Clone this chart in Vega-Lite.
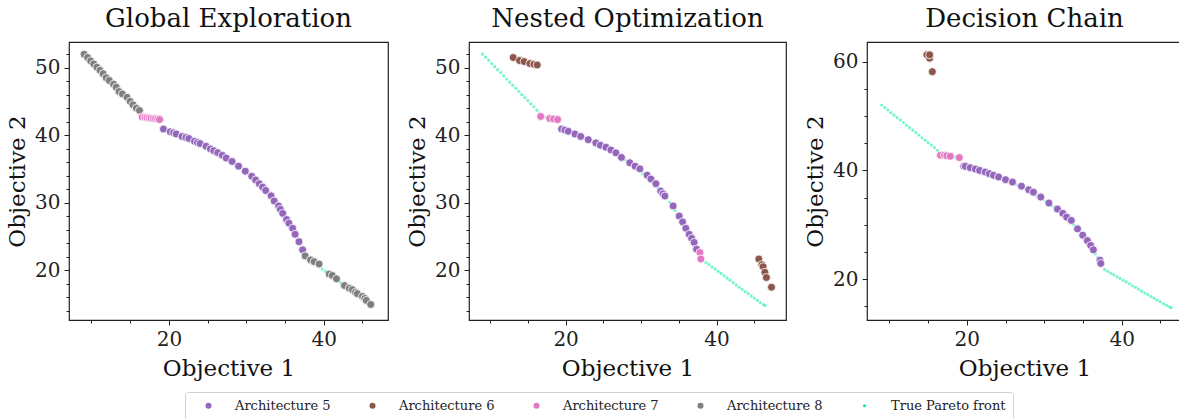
{
  "$schema": "https://vega.github.io/schema/vega-lite/v6.json",
  "background": "white",
  "padding": 5,
  "spacing": 16,
  "datasets": {
    "pareto": [
      {"obj1":9.0,"obj2":52.0},{"obj1":9.4,"obj2":51.55},{"obj1":9.8,"obj2":51.1},{"obj1":10.2,"obj2":50.6},{"obj1":10.6,"obj2":50.15},{"obj1":11.0,"obj2":49.7},{"obj1":11.4,"obj2":49.25},{"obj1":11.8,"obj2":48.8},{"obj1":12.2,"obj2":48.3},{"obj1":12.6,"obj2":47.85},{"obj1":13.0,"obj2":47.4},{"obj1":13.4,"obj2":46.95},{"obj1":13.8,"obj2":46.5},{"obj1":14.2,"obj2":46.0},{"obj1":14.6,"obj2":45.55},{"obj1":15.0,"obj2":45.1},{"obj1":15.4,"obj2":44.65},{"obj1":15.8,"obj2":44.2},{"obj1":16.2,"obj2":43.7},{"obj1":16.5,"obj2":43.2},{"obj1":16.8,"obj2":42.85},{"obj1":17.2,"obj2":42.7},{"obj1":17.6,"obj2":42.6},{"obj1":18.0,"obj2":42.5},{"obj1":18.4,"obj2":42.45},{"obj1":18.8,"obj2":42.35},{"obj1":19.2,"obj2":42.25},
      {"obj1":19.4,"obj2":40.9},{"obj1":19.8,"obj2":40.75},{"obj1":20.2,"obj2":40.55},{"obj1":20.6,"obj2":40.35},{"obj1":21.0,"obj2":40.15},{"obj1":21.4,"obj2":39.95},{"obj1":21.8,"obj2":39.75},{"obj1":22.2,"obj2":39.6},{"obj1":22.6,"obj2":39.45},{"obj1":23.0,"obj2":39.25},{"obj1":23.4,"obj2":39.05},{"obj1":23.8,"obj2":38.85},{"obj1":24.2,"obj2":38.65},{"obj1":24.6,"obj2":38.45},{"obj1":25.0,"obj2":38.25},{"obj1":25.4,"obj2":38.0},{"obj1":25.8,"obj2":37.75},{"obj1":26.2,"obj2":37.5},{"obj1":26.6,"obj2":37.25},{"obj1":27.0,"obj2":36.95},{"obj1":27.4,"obj2":36.65},{"obj1":27.8,"obj2":36.35},{"obj1":28.2,"obj2":36.05},{"obj1":28.6,"obj2":35.7},{"obj1":29.0,"obj2":35.35},{"obj1":29.4,"obj2":35.0},{"obj1":29.8,"obj2":34.65},{"obj1":30.2,"obj2":34.3},{"obj1":30.6,"obj2":33.9},{"obj1":31.0,"obj2":33.5},{"obj1":31.4,"obj2":33.1},{"obj1":31.8,"obj2":32.65},{"obj1":32.2,"obj2":32.2},{"obj1":32.6,"obj2":31.7},{"obj1":33.0,"obj2":31.2},{"obj1":33.4,"obj2":30.65},{"obj1":33.8,"obj2":30.05},{"obj1":34.2,"obj2":29.4},{"obj1":34.5,"obj2":28.85},{"obj1":34.8,"obj2":28.25},{"obj1":35.1,"obj2":27.65},{"obj1":35.4,"obj2":27.1},{"obj1":35.7,"obj2":26.5},{"obj1":36.0,"obj2":25.9},{"obj1":36.3,"obj2":25.3},{"obj1":36.6,"obj2":24.65},{"obj1":36.9,"obj2":24.0},{"obj1":37.2,"obj2":23.35},{"obj1":37.5,"obj2":22.6},
      {"obj1":37.8,"obj2":21.8},{"obj1":38.2,"obj2":21.45},{"obj1":38.6,"obj2":21.1},{"obj1":39.0,"obj2":20.8},{"obj1":39.4,"obj2":20.45},{"obj1":39.8,"obj2":20.15},{"obj1":40.2,"obj2":19.8},{"obj1":40.6,"obj2":19.5},{"obj1":41.0,"obj2":19.15},{"obj1":41.4,"obj2":18.8},{"obj1":41.8,"obj2":18.5},{"obj1":42.2,"obj2":18.15},{"obj1":42.6,"obj2":17.8},{"obj1":43.0,"obj2":17.45},{"obj1":43.4,"obj2":17.15},{"obj1":43.8,"obj2":16.8},{"obj1":44.2,"obj2":16.5},{"obj1":44.6,"obj2":16.15},{"obj1":45.0,"obj2":15.85},{"obj1":45.4,"obj2":15.5},{"obj1":45.8,"obj2":15.2},{"obj1":46.2,"obj2":14.9},{"obj1":46.4,"obj2":14.75}
    ],
    "arch": [
      {"p":1,"s":"Architecture 8","obj1":9.05,"obj2":51.98},{"p":1,"s":"Architecture 8","obj1":9.5,"obj2":51.5},{"p":1,"s":"Architecture 8","obj1":9.9,"obj2":51.0},{"p":1,"s":"Architecture 8","obj1":10.3,"obj2":50.55},{"p":1,"s":"Architecture 8","obj1":10.7,"obj2":50.06},{"p":1,"s":"Architecture 8","obj1":11.1,"obj2":49.6},{"p":1,"s":"Architecture 8","obj1":11.5,"obj2":49.1},{"p":1,"s":"Architecture 8","obj1":11.9,"obj2":48.5},{"p":1,"s":"Architecture 8","obj1":12.3,"obj2":48.1},{"p":1,"s":"Architecture 8","obj1":12.86,"obj2":47.55},{"p":1,"s":"Architecture 8","obj1":13.2,"obj2":47.1},{"p":1,"s":"Architecture 8","obj1":13.56,"obj2":46.46},{"p":1,"s":"Architecture 8","obj1":14.0,"obj2":46.1},{"p":1,"s":"Architecture 8","obj1":14.6,"obj2":45.6},{"p":1,"s":"Architecture 8","obj1":15.0,"obj2":45.0},{"p":1,"s":"Architecture 8","obj1":15.36,"obj2":44.5},{"p":1,"s":"Architecture 8","obj1":15.8,"obj2":44.0},{"p":1,"s":"Architecture 8","obj1":16.2,"obj2":43.66},
      {"p":1,"s":"Architecture 7","obj1":16.56,"obj2":42.68},{"p":1,"s":"Architecture 7","obj1":16.9,"obj2":42.65},{"p":1,"s":"Architecture 7","obj1":17.16,"obj2":42.6},{"p":1,"s":"Architecture 7","obj1":17.45,"obj2":42.55},{"p":1,"s":"Architecture 7","obj1":17.7,"obj2":42.5},{"p":1,"s":"Architecture 7","obj1":18.0,"obj2":42.45},{"p":1,"s":"Architecture 7","obj1":18.27,"obj2":42.43},{"p":1,"s":"Architecture 7","obj1":18.55,"obj2":42.38},{"p":1,"s":"Architecture 7","obj1":18.8,"obj2":42.3},
      {"p":1,"s":"Architecture 5","obj1":19.3,"obj2":40.9},{"p":1,"s":"Architecture 5","obj1":20.17,"obj2":40.5},{"p":1,"s":"Architecture 5","obj1":20.6,"obj2":40.35},{"p":1,"s":"Architecture 5","obj1":20.94,"obj2":40.17},{"p":1,"s":"Architecture 5","obj1":21.7,"obj2":39.8},{"p":1,"s":"Architecture 5","obj1":22.2,"obj2":39.65},{"p":1,"s":"Architecture 5","obj1":22.58,"obj2":39.5},{"p":1,"s":"Architecture 5","obj1":23.3,"obj2":39.1},{"p":1,"s":"Architecture 5","obj1":23.7,"obj2":38.9},{"p":1,"s":"Architecture 5","obj1":24.03,"obj2":38.75},{"p":1,"s":"Architecture 5","obj1":24.8,"obj2":38.35},{"p":1,"s":"Architecture 5","obj1":25.36,"obj2":37.96},{"p":1,"s":"Architecture 5","obj1":25.8,"obj2":37.7},{"p":1,"s":"Architecture 5","obj1":26.3,"obj2":37.4},{"p":1,"s":"Architecture 5","obj1":26.9,"obj2":37.0},{"p":1,"s":"Architecture 5","obj1":27.4,"obj2":36.6},{"p":1,"s":"Architecture 5","obj1":28.16,"obj2":36.1},{"p":1,"s":"Architecture 5","obj1":29.0,"obj2":35.4},{"p":1,"s":"Architecture 5","obj1":29.87,"obj2":34.66},{"p":1,"s":"Architecture 5","obj1":30.7,"obj2":33.9},{"p":1,"s":"Architecture 5","obj1":31.2,"obj2":33.35},{"p":1,"s":"Architecture 5","obj1":31.67,"obj2":32.8},{"p":1,"s":"Architecture 5","obj1":32.1,"obj2":32.3},{"p":1,"s":"Architecture 5","obj1":32.5,"obj2":31.8},{"p":1,"s":"Architecture 5","obj1":33.2,"obj2":31.0},{"p":1,"s":"Architecture 5","obj1":33.6,"obj2":30.24},{"p":1,"s":"Architecture 5","obj1":34.17,"obj2":29.5},{"p":1,"s":"Architecture 5","obj1":34.4,"obj2":29.0},{"p":1,"s":"Architecture 5","obj1":34.7,"obj2":28.4},{"p":1,"s":"Architecture 5","obj1":35.2,"obj2":27.5},{"p":1,"s":"Architecture 5","obj1":35.5,"obj2":26.95},{"p":1,"s":"Architecture 5","obj1":35.98,"obj2":26.2},{"p":1,"s":"Architecture 5","obj1":36.3,"obj2":25.3},{"p":1,"s":"Architecture 5","obj1":36.8,"obj2":24.2},{"p":1,"s":"Architecture 5","obj1":37.27,"obj2":23.0},
      {"p":1,"s":"Architecture 8","obj1":37.6,"obj2":22.1},{"p":1,"s":"Architecture 8","obj1":38.3,"obj2":21.5},{"p":1,"s":"Architecture 8","obj1":38.76,"obj2":21.24},{"p":1,"s":"Architecture 8","obj1":39.4,"obj2":20.9},{"p":1,"s":"Architecture 8","obj1":40.7,"obj2":19.4},{"p":1,"s":"Architecture 8","obj1":41.1,"obj2":19.2},{"p":1,"s":"Architecture 8","obj1":41.65,"obj2":18.7},{"p":1,"s":"Architecture 8","obj1":42.68,"obj2":17.7},{"p":1,"s":"Architecture 8","obj1":43.3,"obj2":17.3},{"p":1,"s":"Architecture 8","obj1":43.7,"obj2":17.1},{"p":1,"s":"Architecture 8","obj1":44.1,"obj2":16.7},{"p":1,"s":"Architecture 8","obj1":44.35,"obj2":16.5},{"p":1,"s":"Architecture 8","obj1":45.0,"obj2":16.1},{"p":1,"s":"Architecture 8","obj1":45.3,"obj2":15.8},{"p":1,"s":"Architecture 8","obj1":45.5,"obj2":15.5},{"p":1,"s":"Architecture 8","obj1":46.07,"obj2":14.9},
      {"p":2,"s":"Architecture 6","obj1":13.06,"obj2":51.5},{"p":2,"s":"Architecture 6","obj1":13.9,"obj2":51.05},{"p":2,"s":"Architecture 6","obj1":14.5,"obj2":50.9},{"p":2,"s":"Architecture 6","obj1":15.27,"obj2":50.6},{"p":2,"s":"Architecture 6","obj1":15.8,"obj2":50.5},{"p":2,"s":"Architecture 6","obj1":16.24,"obj2":50.4},
      {"p":2,"s":"Architecture 7","obj1":16.7,"obj2":42.77},{"p":2,"s":"Architecture 7","obj1":17.9,"obj2":42.45},{"p":2,"s":"Architecture 7","obj1":18.4,"obj2":42.4},{"p":2,"s":"Architecture 7","obj1":18.94,"obj2":42.3},
      {"p":2,"s":"Architecture 5","obj1":19.47,"obj2":40.9},{"p":2,"s":"Architecture 5","obj1":19.9,"obj2":40.75},{"p":2,"s":"Architecture 5","obj1":20.35,"obj2":40.56},{"p":2,"s":"Architecture 5","obj1":21.23,"obj2":40.17},{"p":2,"s":"Architecture 5","obj1":22.0,"obj2":39.8},{"p":2,"s":"Architecture 5","obj1":23.0,"obj2":39.33},{"p":2,"s":"Architecture 5","obj1":24.0,"obj2":38.85},{"p":2,"s":"Architecture 5","obj1":24.6,"obj2":38.5},{"p":2,"s":"Architecture 5","obj1":25.34,"obj2":38.2},{"p":2,"s":"Architecture 5","obj1":26.0,"obj2":37.8},{"p":2,"s":"Architecture 5","obj1":26.66,"obj2":37.37},{"p":2,"s":"Architecture 5","obj1":27.4,"obj2":36.7},{"p":2,"s":"Architecture 5","obj1":28.5,"obj2":35.9},{"p":2,"s":"Architecture 5","obj1":29.2,"obj2":35.4},{"p":2,"s":"Architecture 5","obj1":29.84,"obj2":35.0},{"p":2,"s":"Architecture 5","obj1":30.8,"obj2":34.07},{"p":2,"s":"Architecture 5","obj1":31.3,"obj2":33.5},{"p":2,"s":"Architecture 5","obj1":31.96,"obj2":32.8},{"p":2,"s":"Architecture 5","obj1":32.6,"obj2":31.7},{"p":2,"s":"Architecture 5","obj1":32.9,"obj2":31.3},{"p":2,"s":"Architecture 5","obj1":33.15,"obj2":30.97},{"p":2,"s":"Architecture 5","obj1":34.25,"obj2":29.5},{"p":2,"s":"Architecture 5","obj1":35.05,"obj2":28.0},{"p":2,"s":"Architecture 5","obj1":35.5,"obj2":27.14},{"p":2,"s":"Architecture 5","obj1":35.93,"obj2":26.2},{"p":2,"s":"Architecture 5","obj1":36.37,"obj2":25.3},{"p":2,"s":"Architecture 5","obj1":36.7,"obj2":24.7},{"p":2,"s":"Architecture 5","obj1":37.03,"obj2":24.1},{"p":2,"s":"Architecture 5","obj1":37.35,"obj2":23.1},
      {"p":2,"s":"Architecture 7","obj1":37.8,"obj2":22.6},{"p":2,"s":"Architecture 7","obj1":37.92,"obj2":21.64},
      {"p":2,"s":"Architecture 6","obj1":45.6,"obj2":21.64},{"p":2,"s":"Architecture 6","obj1":46.0,"obj2":20.8},{"p":2,"s":"Architecture 6","obj1":46.17,"obj2":20.5},{"p":2,"s":"Architecture 6","obj1":46.4,"obj2":19.67},{"p":2,"s":"Architecture 6","obj1":46.6,"obj2":18.9},{"p":2,"s":"Architecture 6","obj1":47.28,"obj2":17.46},
      {"p":3,"s":"Architecture 6","obj1":14.84,"obj2":61.24},{"p":3,"s":"Architecture 6","obj1":15.19,"obj2":60.63},{"p":3,"s":"Architecture 6","obj1":15.19,"obj2":61.24},{"p":3,"s":"Architecture 6","obj1":15.54,"obj2":58.15},
      {"p":3,"s":"Architecture 7","obj1":16.6,"obj2":42.78},{"p":3,"s":"Architecture 7","obj1":17.08,"obj2":42.78},{"p":3,"s":"Architecture 7","obj1":17.4,"obj2":42.7},{"p":3,"s":"Architecture 7","obj1":17.86,"obj2":42.6},{"p":3,"s":"Architecture 7","obj1":19.02,"obj2":42.35},
      {"p":3,"s":"Architecture 5","obj1":19.6,"obj2":40.75},{"p":3,"s":"Architecture 5","obj1":19.8,"obj2":40.75},{"p":3,"s":"Architecture 5","obj1":20.44,"obj2":40.5},{"p":3,"s":"Architecture 5","obj1":21.1,"obj2":40.25},{"p":3,"s":"Architecture 5","obj1":21.64,"obj2":40.0},{"p":3,"s":"Architecture 5","obj1":22.37,"obj2":39.7},{"p":3,"s":"Architecture 5","obj1":22.9,"obj2":39.4},{"p":3,"s":"Architecture 5","obj1":23.45,"obj2":39.1},{"p":3,"s":"Architecture 5","obj1":24.1,"obj2":38.8},{"p":3,"s":"Architecture 5","obj1":25.0,"obj2":38.3},{"p":3,"s":"Architecture 5","obj1":25.9,"obj2":37.85},{"p":3,"s":"Architecture 5","obj1":27.06,"obj2":37.1},{"p":3,"s":"Architecture 5","obj1":28.0,"obj2":36.44},{"p":3,"s":"Architecture 5","obj1":28.6,"obj2":36.0},{"p":3,"s":"Architecture 5","obj1":29.55,"obj2":35.1},{"p":3,"s":"Architecture 5","obj1":30.6,"obj2":34.0},{"p":3,"s":"Architecture 5","obj1":31.7,"obj2":32.9},{"p":3,"s":"Architecture 5","obj1":32.4,"obj2":32.1},{"p":3,"s":"Architecture 5","obj1":32.9,"obj2":31.4},{"p":3,"s":"Architecture 5","obj1":33.5,"obj2":30.8},{"p":3,"s":"Architecture 5","obj1":34.3,"obj2":29.25},{"p":3,"s":"Architecture 5","obj1":34.97,"obj2":28.1},{"p":3,"s":"Architecture 5","obj1":35.57,"obj2":27.1},{"p":3,"s":"Architecture 5","obj1":36.0,"obj2":26.2},{"p":3,"s":"Architecture 5","obj1":36.35,"obj2":25.4},{"p":3,"s":"Architecture 5","obj1":37.2,"obj2":23.5},{"p":3,"s":"Architecture 5","obj1":37.3,"obj2":22.9}
    ]
  },
  "hconcat": [
    {
      "width": 319, "height": 278,
      "title": "Global Exploration",
      "layer": [
        {
          "data": {"name": "pareto"},
          "transform": [{"calculate": "'True Pareto front'", "as": "s"}],
          "mark": {"type": "circle", "size": 10, "opacity": 0.55},
          "encoding": {
            "x": {"field": "obj1", "type": "quantitative", "scale": {"domain": [7.1, 48.3], "nice": false, "zero": false},
                  "axis": {"orient": "bottom", "values": [10,15,20,25,30,35,40,45], "tickSize": 3, "labels": false, "title": null}},
            "y": {"field": "obj2", "type": "quantitative", "scale": {"domain": [12.6, 53.8], "nice": false, "zero": false},
                  "axis": {"orient": "left", "values": [14,16,18,20,22,24,26,28,30,32,34,36,38,40,42,44,46,48,50,52], "tickSize": 3, "labels": false, "title": null}},
            "color": {"field": "s", "type": "nominal", "legend": {"encode": {"symbols": {"update": {"size": {"signal": "datum.value === 'True Pareto front' ? 10 : 36"}, "opacity": {"value": 1}}}}}}
          }
        },
        {
          "data": {"name": "arch"},
          "transform": [{"filter": "datum.p === 1"}],
          "mark": {"type": "circle", "size": 64, "opacity": 1, "stroke": "white", "strokeWidth": 0.8},
          "encoding": {
            "x": {"field": "obj1", "type": "quantitative", "scale": {"domain": [7.1, 48.3], "nice": false, "zero": false},
                  "axis": {"orient": "bottom", "values": [20, 40], "title": "Objective 1"}},
            "y": {"field": "obj2", "type": "quantitative", "scale": {"domain": [12.6, 53.8], "nice": false, "zero": false},
                  "axis": {"orient": "left", "values": [20, 30, 40, 50], "title": "Objective 2"}},
            "color": {"field": "s", "type": "nominal", "legend": {"encode": {"symbols": {"update": {"size": {"signal": "datum.value === 'True Pareto front' ? 10 : 36"}, "opacity": {"value": 1}}}}}}
          }
        }
      ],
      "resolve": {"axis": {"x": "independent", "y": "independent"}}
    },
    {
      "width": 317, "height": 278,
      "title": "Nested Optimization",
      "layer": [
        {
          "data": {"name": "pareto"},
          "transform": [{"calculate": "'True Pareto front'", "as": "s"}],
          "mark": {"type": "circle", "size": 10, "opacity": 0.55},
          "encoding": {
            "x": {"field": "obj1", "type": "quantitative", "scale": {"domain": [7.2, 49.2], "nice": false, "zero": false},
                  "axis": {"orient": "bottom", "values": [10,15,20,25,30,35,40,45], "tickSize": 3, "labels": false, "title": null}},
            "y": {"field": "obj2", "type": "quantitative", "scale": {"domain": [12.6, 53.8], "nice": false, "zero": false},
                  "axis": {"orient": "left", "values": [14,16,18,20,22,24,26,28,30,32,34,36,38,40,42,44,46,48,50,52], "tickSize": 3, "labels": false, "title": null}},
            "color": {"field": "s", "type": "nominal", "legend": {"encode": {"symbols": {"update": {"size": {"signal": "datum.value === 'True Pareto front' ? 10 : 36"}, "opacity": {"value": 1}}}}}}
          }
        },
        {
          "data": {"name": "arch"},
          "transform": [{"filter": "datum.p === 2"}],
          "mark": {"type": "circle", "size": 64, "opacity": 1, "stroke": "white", "strokeWidth": 0.8},
          "encoding": {
            "x": {"field": "obj1", "type": "quantitative", "scale": {"domain": [7.2, 49.2], "nice": false, "zero": false},
                  "axis": {"orient": "bottom", "values": [20, 40], "title": "Objective 1"}},
            "y": {"field": "obj2", "type": "quantitative", "scale": {"domain": [12.6, 53.8], "nice": false, "zero": false},
                  "axis": {"orient": "left", "values": [20, 30, 40, 50], "title": "Objective 2"}},
            "color": {"field": "s", "type": "nominal", "legend": {"encode": {"symbols": {"update": {"size": {"signal": "datum.value === 'True Pareto front' ? 10 : 36"}, "opacity": {"value": 1}}}}}}
          }
        }
      ],
      "resolve": {"axis": {"x": "independent", "y": "independent"}}
    },
    {
      "width": 315, "height": 278,
      "title": "Decision Chain",
      "layer": [
        {
          "data": {"name": "pareto"},
          "transform": [{"calculate": "'True Pareto front'", "as": "s"}],
          "mark": {"type": "circle", "size": 10, "opacity": 0.55},
          "encoding": {
            "x": {"field": "obj1", "type": "quantitative", "scale": {"domain": [7.1, 47.8], "nice": false, "zero": false},
                  "axis": {"orient": "bottom", "values": [10,15,20,25,30,35,40,45], "tickSize": 3, "labels": false, "title": null}},
            "y": {"field": "obj2", "type": "quantitative", "scale": {"domain": [12.5, 63.6], "nice": false, "zero": false},
                  "axis": {"orient": "left", "values": [15,20,25,30,35,40,45,50,55,60], "tickSize": 3, "labels": false, "title": null}},
            "color": {"field": "s", "type": "nominal", "legend": {"encode": {"symbols": {"update": {"size": {"signal": "datum.value === 'True Pareto front' ? 10 : 36"}, "opacity": {"value": 1}}}}}}
          }
        },
        {
          "data": {"name": "arch"},
          "transform": [{"filter": "datum.p === 3"}],
          "mark": {"type": "circle", "size": 64, "opacity": 1, "stroke": "white", "strokeWidth": 0.8},
          "encoding": {
            "x": {"field": "obj1", "type": "quantitative", "scale": {"domain": [7.1, 47.8], "nice": false, "zero": false},
                  "axis": {"orient": "bottom", "values": [20, 40], "title": "Objective 1"}},
            "y": {"field": "obj2", "type": "quantitative", "scale": {"domain": [12.5, 63.6], "nice": false, "zero": false},
                  "axis": {"orient": "left", "values": [20, 40, 60], "title": "Objective 2"}},
            "color": {"field": "s", "type": "nominal", "legend": {"encode": {"symbols": {"update": {"size": {"signal": "datum.value === 'True Pareto front' ? 10 : 36"}, "opacity": {"value": 1}}}}}}
          }
        }
      ],
      "resolve": {"axis": {"x": "independent", "y": "independent"}}
    }
  ],
  "resolve": {"scale": {"color": "shared"}, "legend": {"color": "shared"}},
  "config": {
    "font": "DejaVu Serif",
    "view": {"stroke": "#222222", "strokeWidth": 1.2},
    "title": {"font": "DejaVu Serif", "fontSize": 26, "fontWeight": "normal", "color": "#111111", "offset": 10, "anchor": "middle"},
    "axis": {
      "domain": false, "grid": false, "tickColor": "#222222", "tickSize": 5, "tickWidth": 1,
      "labelFont": "DejaVu Serif", "labelFontSize": 20, "labelColor": "#222222", "labelPadding": 4,
      "titleFont": "DejaVu Serif", "titleFontSize": 23, "titleFontWeight": "normal", "titleColor": "#111111", "titlePadding": 5
    },
    "axisX": {"titlePadding": 8},
    "range": {"category": ["#9467bd", "#8c564b", "#e377c2", "#7f7f7f", "#00f0a0"]},
    "legend": {
      "orient": "none", "legendX": 116, "legendY": 350, "direction": "horizontal", "columns": 5, "title": null,
      "labelFont": "DejaVu Serif", "labelFontSize": 13, "labelColor": "#222222",
      "strokeColor": "#d0d0d0", "fillColor": "white", "cornerRadius": 3, "padding": 7,
      "symbolType": "circle", "symbolSize": 36, "symbolStrokeWidth": 0, "symbolOffset": 10, "symbolOpacity": 1,
      "labelOffset": 20, "columnPadding": 25
    }
  }
}
